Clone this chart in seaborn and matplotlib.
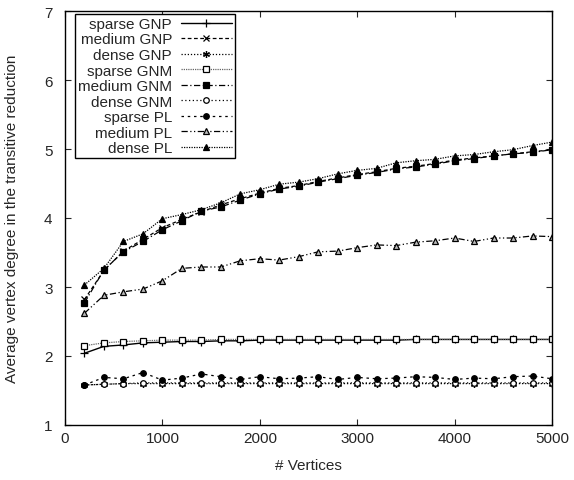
import matplotlib
matplotlib.use("Agg")
import matplotlib.pyplot as plt
import seaborn as sns
import pandas as pd

vertices = [200, 400, 600, 800, 1000, 1200, 1400, 1600, 1800, 2000, 2200, 2400, 2600,
            2800, 3000, 3200, 3400, 3600, 3800, 4000, 4200, 4400, 4600, 4800, 5000]

sparse_gnp = [2.04, 2.14, 2.16, 2.19, 2.20, 2.21, 2.21, 2.22, 2.22, 2.23, 2.23, 2.23, 2.23,
              2.23, 2.23, 2.23, 2.23, 2.24, 2.24, 2.24, 2.24, 2.24, 2.24, 2.24, 2.24]
medium_gnp = [2.82, 3.24, 3.52, 3.69, 3.86, 3.98, 4.09, 4.19, 4.28, 4.36, 4.43, 4.47, 4.53,
              4.58, 4.63, 4.67, 4.72, 4.75, 4.79, 4.84, 4.87, 4.90, 4.93, 4.96, 4.99]
dense_gnp = [1.58, 1.59, 1.60, 1.60, 1.60, 1.60, 1.60, 1.60, 1.60, 1.60, 1.60, 1.60, 1.60,
             1.60, 1.60, 1.60, 1.60, 1.60, 1.60, 1.60, 1.60, 1.60, 1.60, 1.60, 1.60]
sparse_gnm = [2.15, 2.19, 2.21, 2.22, 2.23, 2.23, 2.23, 2.24, 2.24, 2.24, 2.24, 2.24, 2.24,
              2.24, 2.24, 2.24, 2.24, 2.24, 2.24, 2.24, 2.24, 2.24, 2.24, 2.24, 2.24]
medium_gnm = [2.77, 3.25, 3.51, 3.66, 3.83, 3.96, 4.10, 4.16, 4.26, 4.35, 4.42, 4.46, 4.52,
              4.57, 4.62, 4.66, 4.71, 4.74, 4.78, 4.83, 4.86, 4.90, 4.93, 4.95, 4.99]
dense_gnm = [1.58, 1.59, 1.60, 1.61, 1.61, 1.61, 1.61, 1.61, 1.61, 1.61, 1.61, 1.61, 1.61,
             1.61, 1.61, 1.61, 1.61, 1.61, 1.61, 1.61, 1.61, 1.61, 1.61, 1.61, 1.61]
sparse_pl = [1.58, 1.69, 1.67, 1.76, 1.65, 1.68, 1.74, 1.70, 1.66, 1.70, 1.67, 1.68, 1.70,
             1.66, 1.69, 1.67, 1.68, 1.70, 1.69, 1.66, 1.68, 1.67, 1.70, 1.71, 1.67]
medium_pl = [2.62, 2.88, 2.93, 2.97, 3.09, 3.27, 3.29, 3.29, 3.38, 3.41, 3.39, 3.44, 3.51,
             3.52, 3.57, 3.61, 3.60, 3.65, 3.67, 3.71, 3.66, 3.71, 3.71, 3.74, 3.73]
dense_pl = [3.03, 3.27, 3.66, 3.77, 3.99, 4.05, 4.12, 4.22, 4.35, 4.41, 4.49, 4.52, 4.57,
            4.64, 4.69, 4.72, 4.80, 4.83, 4.85, 4.90, 4.92, 4.96, 4.99, 5.05, 5.10]

labels = ["sparse GNP", "medium GNP", "dense GNP", "sparse GNM", "medium GNM",
          "dense GNM", "sparse PL", "medium PL", "dense PL"]
series = [sparse_gnp, medium_gnp, dense_gnp, sparse_gnm, medium_gnm,
          dense_gnm, sparse_pl, medium_pl, dense_pl]

styles = [
    dict(linestyle="-", marker="+", ms=6, mfc="black", color="black", lw=1.0),
    dict(linestyle=(0, (3, 2)), marker="x", ms=4, mfc="black", color="black", lw=0.9),
    dict(linestyle=(0, (1, 1.5)), marker=(6, 2, 0), ms=5, mfc="black", color="black", lw=0.9),
    dict(linestyle=(0, (1, 0.8)), marker="s", ms=4, mfc="white", color="#666666", lw=0.9),
    dict(linestyle=(0, (5, 2, 1, 2)), marker="s", ms=5, mfc="black", color="black", lw=0.9),
    dict(linestyle=(0, (1, 2)), marker="o", ms=4, mfc="white", color="black", lw=0.9),
    dict(linestyle=(0, (2, 3)), marker="o", ms=4, mfc="black", color="black", lw=0.9),
    dict(linestyle=(0, (5, 2, 1, 2, 1, 2)), marker="^", ms=5, mfc="#bbbbbb", color="black", lw=0.9),
    dict(linestyle=(0, (1, 1)), marker="^", ms=4, mfc="black", color="black", lw=0.9),
]

sns.set_style("ticks")
plt.rcParams["font.family"] = ["Liberation Sans", "DejaVu Sans"]

fig = plt.figure(figsize=(5.74, 4.81), dpi=100)
ax = fig.add_axes([65 / 574, (481 - 426) / 481, (552 - 65) / 574, (426 - 12) / 481])

for lab, vals, st in zip(labels, series, styles):
    df = pd.DataFrame({"x": vertices, "y": vals})
    sns.lineplot(data=df, x="x", y="y", ax=ax, label=lab, color=st["color"],
                 linestyle=st["linestyle"], marker=st["marker"], markersize=st["ms"],
                 markerfacecolor=st["mfc"], markeredgecolor="black", markeredgewidth=0.9,
                 linewidth=st["lw"])

ax.set_xlim(0, 5000)
ax.set_ylim(1, 7)
ax.set_xticks(range(0, 5001, 1000))
ax.set_yticks(range(1, 8))
ax.tick_params(direction="in", top=True, right=True, labelsize=11, length=4, width=0.8)
ax.tick_params(axis="x", pad=4)
ax.tick_params(axis="y", pad=9)
for s in ax.spines.values():
    s.set_linewidth(1.0)
    s.set_color("black")
ax.set_xlabel("# Vertices", fontsize=11, labelpad=10)
ax.set_ylabel("Average vertex degree in the transitive reduction", fontsize=11, labelpad=18)

leg = ax.legend(loc="upper left", bbox_to_anchor=(0.0205, 0.993), borderaxespad=0,
                markerfirst=False, fontsize=11, labelspacing=0.1, handlelength=3.3,
                handletextpad=0.6, borderpad=0.2, fancybox=False, framealpha=1,
                edgecolor="black")
leg.get_frame().set_linewidth(1.0)
for vp in leg._legend_handle_box.get_children():
    vp.align = "right"

fig.savefig("out.png", dpi=100)
